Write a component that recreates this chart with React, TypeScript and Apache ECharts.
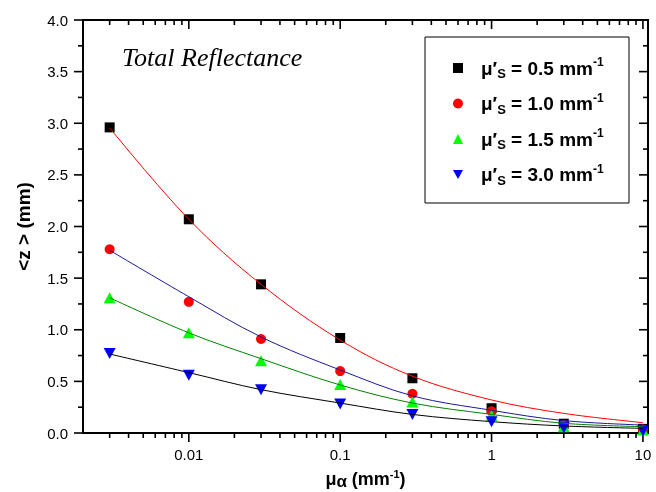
import React, { useEffect, useRef } from "react";
import * as echarts from "echarts";

// absorption coefficient mu_a (mm^-1)
const muA = [0.003, 0.01, 0.03, 0.1, 0.3, 1, 3, 10];

// measured <z> (mm) for each reduced scattering coefficient
const zS05 = [2.96, 2.07, 1.44, 0.92, 0.53, 0.24, 0.09, 0.04];
const zS10 = [1.78, 1.27, 0.91, 0.6, 0.38, 0.21, 0.08, 0.035];
const zS15 = [1.31, 0.97, 0.7, 0.47, 0.3, 0.17, 0.06, 0.03];
const zS30 = [0.77, 0.56, 0.42, 0.28, 0.18, 0.11, 0.05, 0.02];

// fitted curves
const fitS05 = [2.955, 2.07, 1.44, 0.9, 0.55, 0.32, 0.19, 0.1];
const fitS10 = [1.77, 1.32, 0.93, 0.61, 0.36, 0.22, 0.12, 0.077];
const fitS15 = [1.31, 0.97, 0.72, 0.465, 0.29, 0.18, 0.094, 0.061];
const fitS30 = [0.765, 0.585, 0.42, 0.29, 0.18, 0.11, 0.068, 0.045];

const seriesNames = ["s05", "s10", "s15", "s30"];
const legendLabels = ["0.5", "1.0", "1.5", "3.0"];

// axis ranges
const X_MIN = 0.002;
const X_MAX = 10.8;
const Y_MIN = 0;
const Y_MAX = 4;

// x-axis tick positions (log axis)
const xMajorTicks = [0.01, 0.1, 1, 10];
const xMinorTicks = [
  0.003, 0.004, 0.005, 0.006, 0.007, 0.008, 0.009,
  0.02, 0.03, 0.04, 0.05, 0.06, 0.07, 0.08, 0.09,
  0.2, 0.3, 0.4, 0.5, 0.6, 0.7, 0.8, 0.9,
  2, 3, 4, 5, 6, 7, 8, 9,
];
// y-axis tick positions
const yMajorTicks = [0, 0.5, 1, 1.5, 2, 2.5, 3, 3.5, 4];
const yMinorTicks = [0.25, 0.75, 1.25, 1.75, 2.25, 2.75, 3.25, 3.75];

const FONT = "'Liberation Sans', Arial, Helvetica, sans-serif";
const DOWN_TRI = "path://M0,0L12,0L6,11Z";

const zip = (xs: number[], ys: number[]) => xs.map((x, i) => [x, ys[i]]);

export default function App() {
  const ref = useRef<HTMLDivElement>(null);

  useEffect(() => {
    if (!ref.current) return;
    const chart = echarts.init(ref.current, null, { renderer: "svg" });

    const xLabelFmt = (v: number) => {
      const l = Math.log10(v);
      return Math.abs(l - Math.round(l)) < 1e-6 ? String(v) : "";
    };

    const markerColors = ["#000000", "#ff0000", "#00ff00", "#0000ff"];
    const fitColors = ["#ff0000", "#1a1a9a", "#008000", "#000000"];
    const symbols = ["rect", "circle", "triangle", "triangle"];
    const symbolSizes: any[] = [10, 10, [12, 11], [12, 11]];
    const dataSets = [zS05, zS10, zS15, zS30];
    const fitSets = [fitS05, fitS10, fitS15, fitS30];

    const scatterSeries = dataSets.map((d, i) => ({
      name: seriesNames[i],
      type: "scatter",
      data: zip(muA, d),
      symbol: symbols[i],
      symbolSize: symbolSizes[i],
      symbolRotate: i === 3 ? 180 : 0,
      itemStyle: { color: markerColors[i], opacity: 1 },
      z: 3,
    }));

    const lineSeries = fitSets.map((d, i) => ({
      name: "fit" + i,
      type: "line",
      data: zip(muA, d),
      smooth: 0.35,
      showSymbol: false,
      symbol: "none",
      lineStyle: { color: fitColors[i], width: 1 },
      z: 4,
    }));

    const legendIcons = ["rect", "circle", "triangle", DOWN_TRI];

    const baseGraphic: any[] = [
      {
        type: "rect",
        shape: { x: 425, y: 37, width: 204, height: 166 },
        style: { fill: "#ffffff", stroke: "#000000", lineWidth: 1 },
      },
      {
        type: "text",
        x: 122,
        y: 57,
        style: {
          text: "Total Reflectance",
          font: "italic 26px 'Liberation Serif', 'Times New Roman', Times, serif",
          fill: "#000",
          verticalAlign: "middle",
        },
      },
    ];

    const axisLineStyle = { color: "#000", width: 2 };

    try {
      chart.setOption({
        animation: false,
        grid: {
          left: 83,
          right: 8,
          top: 20,
          bottom: 59,
          outerBoundsMode: "none",
          show: true,
          borderColor: "#000",
          borderWidth: 2,
          backgroundColor: "transparent",
        },
        xAxis: {
          type: "log",
          logBase: 10,
          min: X_MIN,
          max: X_MAX,
          axisLine: { onZero: false, lineStyle: axisLineStyle },
          axisTick: { show: false },
          splitLine: { show: false },
          axisLabel: {
            formatter: xLabelFmt,
            color: "#000",
            fontSize: 15,
            fontFamily: FONT,
            margin: 14,
          },
          name: "{m|μ}{s|α}{m| (mm}{p|-1}{m|)}",
          nameLocation: "middle",
          nameGap: 35,
          nameTextStyle: {
            fontFamily: FONT,
            fontWeight: "bold",
            fontSize: 18,
            color: "#000",
            rich: {
              m: { fontFamily: FONT, fontWeight: "bold", fontSize: 18, lineHeight: 22, verticalAlign: "middle", color: "#000" },
              s: { fontFamily: FONT, fontWeight: "bold", fontSize: 17, lineHeight: 16, verticalAlign: "bottom", color: "#000" },
              p: { fontFamily: FONT, fontWeight: "bold", fontSize: 11, lineHeight: 11, verticalAlign: "top", color: "#000" },
            },
          },
        },
        yAxis: {
          type: "value",
          min: Y_MIN,
          max: Y_MAX,
          interval: 0.5,
          axisLine: { show: true, lineStyle: axisLineStyle },
          axisTick: { show: false },
          splitLine: { show: false },
          axisLabel: {
            formatter: (v: number) => v.toFixed(1),
            color: "#000",
            fontSize: 15,
            fontFamily: FONT,
            margin: 15,
          },
          name: "<z > (mm)",
          nameLocation: "middle",
          nameGap: 50,
          nameTextStyle: { fontFamily: FONT, fontWeight: "bold", fontSize: 19, color: "#000" },
        },
        legend: {
          orient: "vertical",
          left: 453,
          top: 56,
          padding: 0,
          itemGap: 11.5,
          itemWidth: 10,
          itemHeight: 10,
          selectedMode: false,
          data: seriesNames.map((n, i) => ({ name: n, icon: legendIcons[i] })),
          formatter: (name: string) => {
            const i = seriesNames.indexOf(name);
            return "{mu|μ′}{s|S}{n| = " + legendLabels[i] + " mm}{p|-1}";
          },
          textStyle: {
            fontFamily: FONT,
            fontWeight: "bold",
            fontSize: 19,
            color: "#000",
            rich: {
              mu: { fontFamily: FONT, fontWeight: "bold", fontSize: 19, lineHeight: 24, verticalAlign: "middle", color: "#000", padding: [0, 0, 0, 13] },
              n: { fontFamily: FONT, fontWeight: "bold", fontSize: 19, lineHeight: 24, verticalAlign: "middle", color: "#000" },
              s: { fontFamily: FONT, fontWeight: "bold", fontSize: 13, lineHeight: 18, verticalAlign: "bottom", color: "#000" },
              p: { fontFamily: FONT, fontWeight: "bold", fontSize: 12, lineHeight: 12, verticalAlign: "top", color: "#000" },
            },
          },
        },
        graphic: baseGraphic,
        series: [...scatterSeries, ...lineSeries],
      });
    } catch (e) {
      /* ignore */
    }

    // ticks placed through the chart's own axis scales
    const tickEls: any[] = [];
    try {
      const xp = (v: number) => Number(chart.convertToPixel({ xAxisIndex: 0 } as any, v as any));
      const yp = (v: number) => Number(chart.convertToPixel({ yAxisIndex: 0 } as any, v as any));
      const yBottom = yp(Y_MIN);
      const yTop = yp(Y_MAX);
      const xLeft = xp(X_MIN);
      const xRight = xp(X_MAX);
      const seg = (x1: number, y1: number, x2: number, y2: number) => ({
        type: "line",
        shape: { x1, y1, x2, y2 },
        style: { stroke: "#000000", lineWidth: 1.6 },
      });
      const addX = (v: number, len: number) => {
        const x = xp(v);
        if (!isFinite(x)) return;
        tickEls.push(seg(x, yBottom, x, yBottom + len)); // bottom, outward
        tickEls.push(seg(x, yTop, x, yTop + len)); // top, inward
      };
      const addY = (v: number, len: number) => {
        const y = yp(v);
        if (!isFinite(y)) return;
        tickEls.push(seg(xLeft - len, y, xLeft, y)); // left, outward
        tickEls.push(seg(xRight - len, y, xRight, y)); // right, inward
      };
      xMajorTicks.forEach((v) => addX(v, 9));
      xMinorTicks.forEach((v) => addX(v, 5));
      yMajorTicks.forEach((v) => addY(v, 9));
      yMinorTicks.forEach((v) => addY(v, 5));
      chart.setOption({ graphic: [...baseGraphic, ...tickEls] });
    } catch (e) {
      /* ignore */
    }

    return () => chart.dispose();
  }, []);

  return <div ref={ref} style={{ position: "fixed", left: 0, top: 0, width: 656, height: 492 }} />;
}
